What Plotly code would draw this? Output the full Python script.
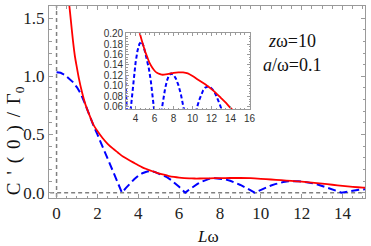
import plotly.graph_objects as go

# C'(0)/Gamma0 versus L*omega  (z*omega = 10, a/omega = 0.1)
red_x = [0.5, 0.55, 0.6, 0.63, 0.7, 0.8, 0.9, 1.0, 1.1, 1.25, 1.4, 1.6, 1.8, 2.0, 2.25, 2.5,
         2.75, 3.0, 3.25, 3.5, 3.75, 4.0, 4.2, 4.4, 4.6, 4.8, 5.0, 5.25, 5.5, 5.75, 6.0,
         6.25, 6.5, 6.75, 7.0, 7.5, 8.0, 8.5, 9.0, 9.5, 10.0, 10.5, 11.0, 11.5, 12.0,
         12.5, 13.0, 13.5, 14.0, 14.5, 15.0, 15.3, 16.2]
red_y = [2.0, 1.82, 1.66, 1.60, 1.48, 1.31, 1.17, 1.07, 0.975, 0.86, 0.765, 0.67, 0.585,
         0.53, 0.47, 0.42, 0.38, 0.345, 0.31, 0.285, 0.26, 0.235, 0.217, 0.203, 0.190,
         0.178, 0.166, 0.154, 0.143, 0.135, 0.129, 0.125, 0.123, 0.1215, 0.1215, 0.123,
         0.125, 0.126, 0.1258, 0.124, 0.119, 0.113, 0.107, 0.101, 0.094, 0.086, 0.077,
         0.068, 0.058, 0.050, 0.043, 0.040, 0.032]

blue_x = [0.0, 0.2, 0.4, 0.6, 0.8, 1.0, 1.2, 1.4, 1.6, 1.8, 2.0, 2.2, 2.4, 2.6, 2.8, 3.0, 3.2,
          3.4, 3.6, 3.8, 4.0, 4.2, 4.4, 4.6, 4.8, 5.0, 5.2, 5.4, 5.6, 5.8, 6.0, 6.2, 6.3,
          6.5, 6.7, 6.9, 7.1, 7.3, 7.5, 7.75, 8.0, 8.25, 8.5, 8.75, 9.0, 9.25, 9.5, 9.7,
          9.9, 10.1, 10.3, 10.5, 10.7, 10.9, 11.1, 11.35, 11.6, 11.85, 12.1, 12.35, 12.6,
          12.85, 13.1, 13.35, 13.6, 13.8, 13.95, 14.2, 14.5, 14.8, 15.1, 15.3, 16.2]
blue_y = [1.035, 1.03, 1.012, 0.985, 0.95, 0.905, 0.845, 0.76, 0.665, 0.58, 0.50, 0.42,
          0.336, 0.252, 0.168, 0.084, 0.0,
          0.041, 0.080, 0.115, 0.145, 0.167, 0.180, 0.185, 0.178, 0.165, 0.150, 0.133,
          0.110, 0.082, 0.050, 0.017, 0.0,
          0.027, 0.052, 0.075, 0.094, 0.110, 0.120, 0.124, 0.1215, 0.114, 0.102, 0.086,
          0.066, 0.044, 0.020, 0.0,
          0.016, 0.032, 0.047, 0.061, 0.073, 0.083, 0.091, 0.097, 0.099, 0.0976, 0.0935,
          0.087, 0.078, 0.066, 0.053, 0.039, 0.023, 0.010, 0.0,
          0.008, 0.017, 0.024, 0.029, 0.033, 0.045]

main_xticks = [0, 2, 4, 6, 8, 10, 12, 14]
main_yticks = [0.0, 0.5, 1.0, 1.5]
inset_xticks = [4, 6, 8, 10, 12, 14, 16]
inset_yticks = [0.06, 0.08, 0.10, 0.12, 0.14, 0.16, 0.18, 0.20]

RED = "#ff0000"
BLUE = "#0000ff"
FRAME = "#9a9a9a"
SERIF = "Liberation Serif, Times New Roman, serif"
SANS = "Liberation Sans, Arial, sans-serif"

fig = go.Figure()

# reference lines
fig.add_trace(go.Scatter(x=[0, 0], y=[-1, 2], mode="lines", xaxis="x", yaxis="y",
                         line=dict(color="#808080", width=1.5, dash="4px,3px"), hoverinfo="skip"))
fig.add_trace(go.Scatter(x=[-1, 17], y=[0, 0], mode="lines", xaxis="x", yaxis="y",
                         line=dict(color="#808080", width=1.5, dash="4px,3px"), hoverinfo="skip"))

# main curves
fig.add_trace(go.Scatter(x=blue_x, y=blue_y, mode="lines", xaxis="x", yaxis="y",
                         line=dict(color=BLUE, width=2, dash="8px,4px")))
fig.add_trace(go.Scatter(x=red_x, y=red_y, mode="lines", xaxis="x", yaxis="y",
                         line=dict(color=RED, width=1.8, shape="spline", smoothing=0.6)))

# inset curves
fig.add_trace(go.Scatter(x=blue_x, y=blue_y, mode="lines", xaxis="x2", yaxis="y2",
                         line=dict(color=BLUE, width=2, dash="4px,2.5px")))
fig.add_trace(go.Scatter(x=red_x, y=red_y, mode="lines", xaxis="x2", yaxis="y2",
                         line=dict(color=RED, width=1.8, shape="spline", smoothing=0.6)))

axis_common = dict(showline=True, linecolor=FRAME, linewidth=1, mirror="ticks",
                   ticks="inside", tickcolor=FRAME, showgrid=False, zeroline=False)

GAP = "\u2004\u200a"
ylabel = GAP.join(["C", "'", "(", "0", ")", "/", "Γ<sub>0</sub>"])

fig.update_layout(
    width=371, height=246,
    margin=dict(l=49, r=2, t=1, b=48),
    paper_bgcolor="white", plot_bgcolor="white",
    showlegend=False,
    xaxis=dict(domain=[0, 1], range=[-0.37, 15.1], tickvals=main_xticks, ticklen=4,
               minor=dict(dtick=0.5, tick0=0, ticks="inside", ticklen=2.5, tickcolor=FRAME),
               tickfont=dict(family=SERIF, size=17, color="#222"), **axis_common),
    yaxis=dict(domain=[0, 1], range=[-0.046, 1.604], tickvals=main_yticks, tickformat=".1f",
               ticklen=4,
               minor=dict(dtick=0.1, tick0=0, ticks="inside", ticklen=2.5, tickcolor=FRAME),
               tickfont=dict(family=SERIF, size=17, color="#222"), **axis_common),
    xaxis2=dict(domain=[0.244, 0.6375], anchor="y2", range=[3.0, 16.1], tickvals=inset_xticks,
                ticklen=3,
                minor=dict(dtick=0.5, tick0=0, ticks="inside", ticklen=1.5, tickcolor=FRAME),
                tickfont=dict(family=SANS, size=10, color="#333"), **axis_common),
    yaxis2=dict(domain=[0.462, 0.858], anchor="x2", range=[0.0555, 0.2005],
                tickvals=inset_yticks, tickformat=".2f", ticklen=3,
                minor=dict(dtick=0.005, tick0=0, ticks="inside", ticklen=1.5, tickcolor=FRAME),
                tickfont=dict(family=SANS, size=10, color="#333"), **axis_common),
    annotations=[
        dict(text="<i>z</i>ω=10", xref="paper", yref="paper", x=0.769, y=0.819,
             xanchor="center", yanchor="middle",
             showarrow=False, font=dict(family=SERIF, size=18, color="#111")),
        dict(text="<i>a</i>/ω=0.1", xref="paper", yref="paper", x=0.769, y=0.692,
             xanchor="center", yanchor="middle",
             showarrow=False, font=dict(family=SERIF, size=18, color="#111")),
        dict(text="<i>L</i>ω", xref="paper", yref="paper", x=0.503, y=-0.2,
             xanchor="center", yanchor="middle", showarrow=False,
             font=dict(family=SERIF, size=17, color="#111")),
        dict(text=ylabel, xref="paper", yref="paper", x=-0.105, y=0.30,
             xanchor="center", yanchor="middle", textangle=-90, showarrow=False,
             font=dict(family=SERIF, size=19, color="#111")),
    ],
)

fig.write_html("out.html", config={"displayModeBar": False},
               post_script="document.body.style.margin='0px';")
